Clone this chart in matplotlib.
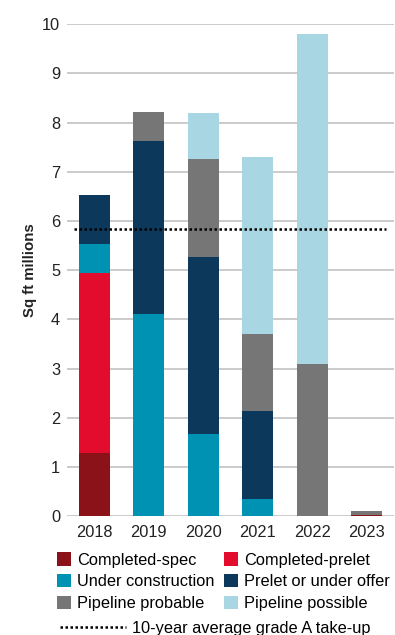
import numpy as np
import matplotlib.pyplot as plt
from matplotlib.patches import Patch
from matplotlib.lines import Line2D

plt.rcParams['font.family'] = ['Liberation Sans', 'DejaVu Sans']

YEARS = ["2018", "2019", "2020", "2021", "2022", "2023"]

# sq ft millions per category, stacked bottom to top
COMPLETED_SPEC = [1.28, 0.0, 0.0, 0.0, 0.0, 0.02]
COMPLETED_PRELET = [3.66, 0.0, 0.0, 0.0, 0.0, 0.0]
UNDER_CONSTRUCTION = [0.59, 4.11, 1.67, 0.35, 0.0, 0.0]
PRELET_OR_OFFER = [0.99, 3.51, 3.59, 1.78, 0.0, 0.0]
PIPELINE_PROBABLE = [0.0, 0.59, 2.00, 1.57, 3.09, 0.09]
PIPELINE_POSSIBLE = [0.0, 0.0, 0.93, 3.60, 6.71, 0.0]

TAKE_UP_AVG = 5.83

SERIES = [
    ("Completed-spec", COMPLETED_SPEC, "#8C1219"),
    ("Completed-prelet", COMPLETED_PRELET, "#E30C2D"),
    ("Under construction", UNDER_CONSTRUCTION, "#0092B2"),
    ("Prelet or under offer", PRELET_OR_OFFER, "#0C385C"),
    ("Pipeline probable", PIPELINE_PROBABLE, "#767676"),
    ("Pipeline possible", PIPELINE_POSSIBLE, "#A8D6E2"),
]

DOTS = (0, (1, 1))

fig = plt.figure(figsize=(3.95, 6.35), dpi=100)
ax = fig.add_axes([0.170, 0.187, 0.827, 0.775])

x = np.arange(len(YEARS))
bottom = np.zeros(len(YEARS))
handles = {}
for label, vals, color in SERIES:
    vals = np.array(vals)
    ax.bar(x, vals, width=0.57, bottom=bottom, color=color, zorder=3)
    bottom += vals
    handles[label] = Patch(facecolor=color, label=label)

ax.axhline(TAKE_UP_AVG, xmin=0.02, xmax=0.975, color="black", linestyle=DOTS,
           linewidth=1.8, zorder=4)

ax.set_xlim(-0.5, len(YEARS) - 0.5)
ax.set_ylim(0, 10)
ax.set_yticks(range(0, 11))
ax.set_xticks(x)
ax.set_xticklabels(YEARS)
ax.tick_params(axis='both', length=0, labelsize=11.8, colors="#222222")
ax.tick_params(axis='y', pad=5)
ax.tick_params(axis='x', pad=6)
ax.yaxis.grid(True, color="#BDBDBD", linewidth=1.1, zorder=0)
for s in ax.spines.values():
    s.set_visible(False)
ax.set_ylabel("Sq ft millions", fontsize=10.8, fontweight="bold", color="#222222", labelpad=4)

order = ["Completed-spec", "Under construction", "Pipeline probable",
         "Completed-prelet", "Prelet or under offer", "Pipeline possible"]
leg = fig.legend(handles=[handles[k] for k in order], ncol=2, loc="upper left",
                 bbox_to_anchor=(0.145, 0.130), frameon=False, fontsize=11.8,
                 handlelength=0.85, handleheight=0.85, handletextpad=0.35,
                 columnspacing=0.6, labelspacing=0.4, borderaxespad=0, borderpad=0)
line_handle = Line2D([], [], color="black", linestyle=DOTS, linewidth=1.8)
fig.legend(handles=[line_handle], labels=["10-year average grade A take-up"],
           loc="upper left", bbox_to_anchor=(0.153, 0.022), frameon=False, fontsize=11.8,
           handlelength=4.0, handletextpad=0.35, borderaxespad=0, borderpad=0)

fig.savefig("out.png", dpi=100)
